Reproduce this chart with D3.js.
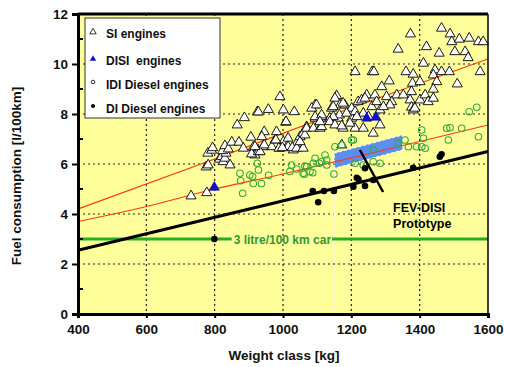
<!DOCTYPE html>
<html>
<head>
<meta charset="utf-8">
<script src="https://cdn.jsdelivr.net/npm/d3@7"></script>
<style>
  body { margin: 0; background: #fff; }
  text { font-family: Arial, "Liberation Sans", sans-serif; font-weight: bold; }
</style>
</head>
<body>
<svg id="chart" width="505" height="367"></svg>
<script>
// axis ticks
const xTicks = [400, 600, 800, 1000, 1200, 1400, 1600];
const yTicks = [0, 2, 4, 6, 8, 10, 12];
const yMinor = [1, 3, 5, 7, 9, 11];

// [weight kg, l/100km]
const siEngines = [
  [731,4.72],[777,4.85],[775,5.88],[781,5.96],[780,6.43],[791,6.55],[794,6.65],[814,6.19],[820,6.29],
  [825,6.09],[830,6.23],[833,6.43],[845,5.96],[823,6.53],[830,6.73],[840,6.6],[850,6.87],[871,6.87],
  [866,7.56],[887,7.85],[925,8.08],[906,7.07],[884,6.63],[913,6.67],[918,6.36],[927,6.56],[908,6.4],
  [928,6.49],[942,6.69],[967,6.69],[977,6.96],[1001,6.89],[991,6.63],[1011,6.69],[1030,6.56],[1040,6.83],
  [1050,7.09],[1059,7.23],[1069,7.49],[945,7.29],[981,7.29],[1008,7.67],[979,6.96],[988,6.63],[1015,7.03],
  [1015,6.69],[998,6.65],[1027,6.65],[1040,6.63],[1059,6.63],[1050,6.89],[1064,7.16],[1069,7.43],[1089,7.43],
  [1108,7.43],[1094,7.83],[1113,7.83],[1137,7.83],[1162,7.83],[1176,7.43],[1201,7.83],[1211,7.43],[1235,7.43],
  [1172,6.76],[933,6.49],[945,6.76],[918,6.69],[938,7.09],[991,8.69],[928,8.08],[957,8.18],[1001,8.16],
  [1033,8.09],[1094,8.36],[1084,8.23],[1157,8.73],[1152,8.63],[1142,8.23],[1167,8.36],[1181,8.36],[1201,8.23],
  [1220,8.49],[1230,8.56],[1245,8.76],[1240,8.63],[1211,8.09],[1235,8.03],[1260,8.29],[1250,7.89],[1113,7.89],
  [1094,7.89],[1009,7.69],[1098,8.36],[1113,7.96],[1113,7.49],[1108,7.69],[1147,8.29],[1176,8.43],[1165,7.96],
  [1147,7.89],[1137,7.69],[1152,7.56],[1172,7.52],[1186,8.03],[1211,9.69],[1261,9.69],[1216,7.89],[1196,7.63],
  [1264,7.23],[1284,7.56],
  [1373,11.2],[1464,11.43],[1489,11.2],[1494,10.89],[1516,10.99],[1545,11.03],[1572,10.89],[1586,10.89],
  [1420,10.69],[1337,10.59],[1457,10.43],[1503,10.49],[1533,10.49],[1542,10.25],[1411,10.03],[1266,9.69],
  [1360,9.69],[1381,9.59],[1445,9.76],[1464,9.69],[1487,9.69],[1440,9.56],[1577,9.69],[1510,9.2],[1311,9.32],
  [1289,9.09],[1379,9.23],[1401,9.29],[1450,9.29],[1440,8.99],[1269,8.76],[1274,8.49],[1303,8.69],[1318,8.49],
  [1313,8.36],[1333,8.76],[1352,8.76],[1376,8.89],[1372,8.56],[1401,8.56],[1416,8.76],[1425,8.49],[1440,8.63],
  [1376,8.27],[1381,8.16],[1284,8.16],[1294,8.29],[1386,8.23]
];
const disiEngines = [[799,5.07],[1245,7.83],[1272,7.87]];
const idiDiesel = [
  [876,5.33],[882,4.83],[874,5.63],[903,5.56],[911,5.5],[913,5.22],[925,6.03],[928,5.76],[937,5.22],
  [958,5.55],[1020,5.7],[1025,5.96],[1040,5.8],[1059,5.63],[1062,5.59],[1064,5.92],[1069,5.89],[1079,5.69],
  [1087,5.65],[1089,6.03],[1094,6.23],[1106,6.03],[1113,6.09],[1123,6.36],[1128,6.16],[1128,5.96],[1149,5.6],
  [1152,6.69],[1172,6.76],[1201,6.96],[1206,6.96],[1211,6.03],[1235,5.96],[1264,6.09],[1284,6.03],[1264,6.56],
  [1337,6.83],[1357,6.96],[1367,6.69],[1391,6.69],[1406,6.69],[1416,6.63],[1406,7.36],[1411,7.03],
  [1479,7.43],[1523,7.43],[1489,7.45],[1484,6.96],[1572,7.09],[1545,8.09],[1567,8.27]
];
const diDiesel = [
  [799,3.0],[1087,4.92],[1103,4.47],[1120,4.92],[1149,4.92],[1206,5.09],[1216,5.45],[1221,5.39],
  [1240,5.83],[1240,5.12],[1264,5.36],[1381,5.85],[1459,6.29],[1464,6.39]
];

// trend lines
const diTrend = [[400,2.55],[1600,6.5]];
const upperTrend = [[400,4.2],[800,6.2],[1200,8.25],[1600,10.2]];
const lowerTrend = [[400,3.7],[600,4.3],[800,5.0],[1000,5.6],[1200,6.24],[1400,6.9],[1600,7.56]];
const targetLevel = 3;
const fevBand = [[1150,5.83],[1150,6.43],[1350,7.16],[1350,6.56]];
const fevLine = [[1225,6.56],[1293,4.88]];

const legendItems = ["SI engines", "DISI  engines", "IDI Diesel engines", "DI Diesel engines"];

const margin = {top: 14, right: 17, bottom: 53, left: 78};
const width = 505 - margin.left - margin.right;
const height = 367 - margin.top - margin.bottom;

const svg = d3.select("#chart");
const g = svg.append("g").attr("transform", "translate(" + margin.left + "," + margin.top + ")");

const x = d3.scaleLinear().domain([400, 1600]).range([0, width]);
const y = d3.scaleLinear().domain([0, 12]).range([height, 0]);

g.append("rect").attr("width", width).attr("height", height).attr("fill", "#ffff9c");

// grid
g.selectAll(".vgrid").data(xTicks.slice(1, -1)).enter().append("line")
  .attr("x1", d => x(d)).attr("x2", d => x(d)).attr("y1", 0).attr("y2", height)
  .attr("stroke", "#222").attr("stroke-width", 1.2).attr("stroke-dasharray", "2,3");
g.selectAll(".hgrid").data(yTicks.slice(1, -1)).enter().append("line")
  .attr("x1", 0).attr("x2", width).attr("y1", d => y(d)).attr("y2", d => y(d))
  .attr("stroke", "#222").attr("stroke-width", 1.2).attr("stroke-dasharray", "2,3");

// pale dotted marker line
g.append("line").attr("x1", x(1150)).attr("x2", x(1150)).attr("y1", y(5.8)).attr("y2", height)
  .attr("stroke", "#f4f4f4").attr("stroke-width", 1.5).attr("stroke-dasharray", "2,2");

const line = d3.line().x(d => x(d[0])).y(d => y(d[1]));
const smooth = d3.line().curve(d3.curveMonotoneX).x(d => x(d[0])).y(d => y(d[1]));

// FEV band
g.append("path").attr("d", line(fevBand) + "Z")
  .attr("fill", "#5b8ef0").attr("stroke", "#fff").attr("stroke-width", 1).attr("stroke-dasharray", "3,2");

g.append("path").attr("d", smooth(upperTrend)).attr("fill", "none").attr("stroke", "#ff3a10").attr("stroke-width", 1.2);
g.append("path").attr("d", smooth(lowerTrend)).attr("fill", "none").attr("stroke", "#ff3a10").attr("stroke-width", 1.2);

// 3 litre line with label
const green = "#22b022";
const label = g.append("text").attr("x", x(800) + 19).attr("y", y(targetLevel) + 4.5)
  .attr("fill", "#2f9a2f").attr("font-size", "12px").text("3 litre/100 km car");
const labelEnd = x(800) + 19 + label.node().getComputedTextLength();
g.append("line").attr("x1", 0).attr("x2", x(800) + 17).attr("y1", y(targetLevel)).attr("y2", y(targetLevel))
  .attr("stroke", green).attr("stroke-width", 3);
g.append("line").attr("x1", labelEnd + 1).attr("x2", width).attr("y1", y(targetLevel)).attr("y2", y(targetLevel))
  .attr("stroke", green).attr("stroke-width", 3);

g.append("path").attr("d", line(diTrend)).attr("fill", "none").attr("stroke", "#000").attr("stroke-width", 3);

// markers
const tri = d3.symbol().type(d3.symbolTriangle).size(44);
g.selectAll(".si").data(siEngines).enter().append("path")
  .attr("d", tri).attr("transform", d => "translate(" + x(d[0]) + "," + y(d[1]) + ")")
  .attr("fill", "#fff").attr("stroke", "#000").attr("stroke-width", 0.9);
g.selectAll(".idi").data(idiDiesel).enter().append("circle")
  .attr("cx", d => x(d[0])).attr("cy", d => y(d[1])).attr("r", 3.3)
  .attr("fill", "none").attr("stroke", "#3aa83a").attr("stroke-width", 1.1);
g.selectAll(".disi").data(disiEngines).enter().append("path")
  .attr("d", tri).attr("transform", d => "translate(" + x(d[0]) + "," + y(d[1]) + ")")
  .attr("fill", "#1010d0").attr("stroke", "#0000a0").attr("stroke-width", 0.6);
g.selectAll(".di").data(diDiesel).enter().append("circle")
  .attr("cx", d => x(d[0])).attr("cy", d => y(d[1])).attr("r", 3.3).attr("fill", "#000");

g.append("path").attr("d", line(fevLine)).attr("stroke", "#000").attr("stroke-width", 2.5);
g.append("text").attr("x", x(1293) + 10).attr("y", 198).attr("font-size", "12.5px").text("FEV-DISI");
g.append("text").attr("x", x(1293) + 10).attr("y", 214).attr("font-size", "12.5px").text("Prototype");

// legend
const lg = g.append("g").attr("transform", "translate(7,4)");
lg.append("rect").attr("width", 135).attr("height", 100).attr("fill", "#fff").attr("stroke", "#333").attr("stroke-width", 1);
const rowY = [16, 43, 67, 91];
const smallTri = d3.symbol().type(d3.symbolTriangle).size(18);
lg.append("path").attr("d", smallTri).attr("transform", "translate(8," + (rowY[0] - 2) + ")")
  .attr("fill", "#fff").attr("stroke", "#000").attr("stroke-width", 0.8);
lg.append("path").attr("d", smallTri).attr("transform", "translate(8," + (rowY[1] - 2) + ")").attr("fill", "#1010d0");
lg.append("circle").attr("cx", 8).attr("cy", rowY[2] - 3).attr("r", 1.8).attr("fill", "none").attr("stroke", "#000").attr("stroke-width", 0.8);
lg.append("circle").attr("cx", 8).attr("cy", rowY[3] - 3).attr("r", 2).attr("fill", "#000");
lg.selectAll(".lt").data(legendItems).enter().append("text")
  .attr("x", 21).attr("y", (d, i) => rowY[i] + 4).attr("font-size", "12px").attr("fill", "#111")
  .attr("xml:space", "preserve").style("white-space", "pre").text(d => d);

// frame
g.append("line").attr("x1", 0).attr("x2", width).attr("y1", 0).attr("y2", 0).attr("stroke", "#000").attr("stroke-width", 3);
g.append("line").attr("x1", width).attr("x2", width).attr("y1", 0).attr("y2", height).attr("stroke", "#000").attr("stroke-width", 1.5);

// axes
const xAxis = g.append("g").attr("transform", "translate(0," + height + ")")
  .call(d3.axisBottom(x).tickValues(xTicks).tickFormat(d3.format("d")).tickSize(4).tickPadding(6));
const yAxis = g.append("g")
  .call(d3.axisLeft(y).tickValues(yTicks).tickFormat(d3.format("d")).tickSize(6).tickPadding(4));
g.selectAll(".ymin").data(yMinor).enter().append("line")
  .attr("x1", 0).attr("x2", 5).attr("y1", d => y(d)).attr("y2", d => y(d)).attr("stroke", "#000").attr("stroke-width", 2);
[xAxis, yAxis].forEach(a => {
  a.select(".domain").attr("stroke", "#000").attr("stroke-width", 3);
  a.selectAll(".tick line").attr("stroke", "#000").attr("stroke-width", 2);
  a.selectAll(".tick text").attr("font-size", "13.5px").attr("fill", "#111")
    .attr("font-family", "Arial, 'Liberation Sans', sans-serif").attr("font-weight", "bold");
});

svg.append("text").attr("x", margin.left + x(1000) + 1).attr("y", 360)
  .attr("text-anchor", "middle").attr("font-size", "13.5px").attr("fill", "#111").text("Weight class [kg]");
svg.append("text").attr("transform", "translate(21,176) rotate(-90)")
  .attr("text-anchor", "middle").attr("font-size", "13.5px").attr("fill", "#111").text("Fuel consumption [l/100km]");
</script>
</body>
</html>
